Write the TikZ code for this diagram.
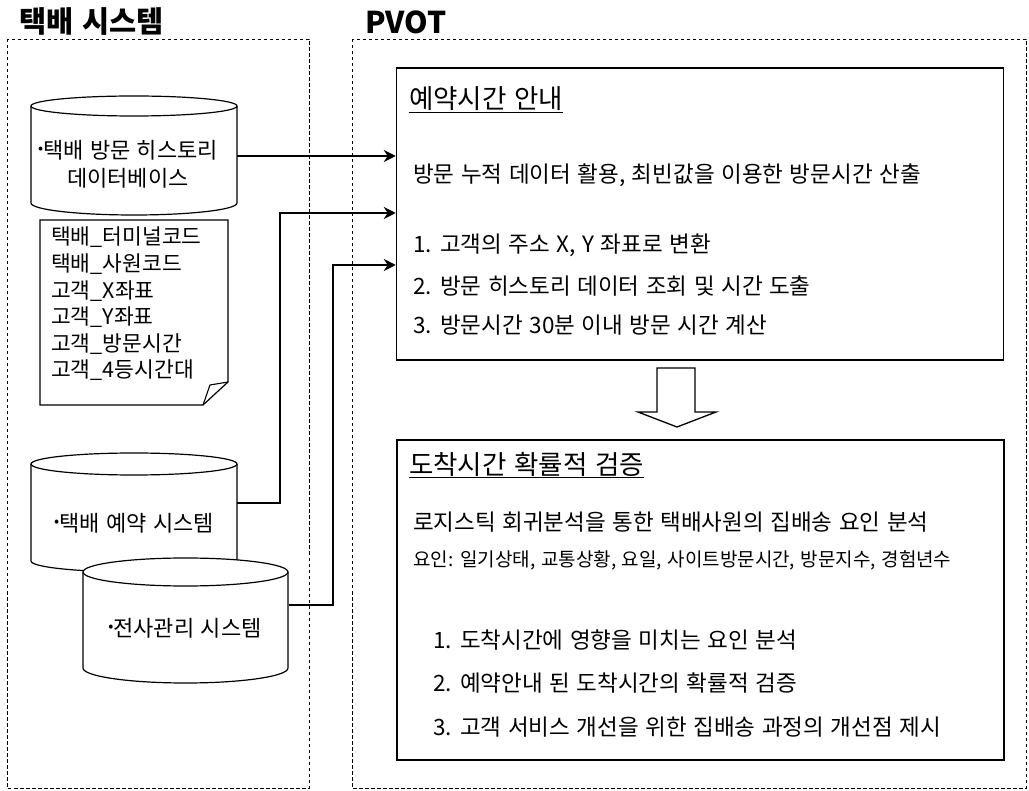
\documentclass[tikz,border=0pt]{standalone}
\usepackage{fontspec}
\setmainfont[WordSpace=1.3]{Noto Sans CJK KR}
\usetikzlibrary{arrows.meta,calc}
\newcommand\mycyl[6]{% left, right, top centre, bottom centre, top radius, bottom radius
  \filldraw[cylline] (#1,#3) -- (#1,#4)
    arc[start angle=180,end angle=0,x radius={(#2-#1)/2},y radius=#6]
    -- (#2,#3)
    arc[start angle=0,end angle=-180,x radius={(#2-#1)/2},y radius=#5] -- cycle;
  \draw[cylline,fill=none] (#1,#3)
    arc[start angle=180,end angle=0,x radius={(#2-#1)/2},y radius=#5];
}
\newcommand\bul{\raisebox{5pt}{\fontsize{15}{15}\selectfont •}}
\begin{document}
\begin{tikzpicture}[x=1pt,y=-1pt,
  frame/.style={draw, line width=0.9pt, dash pattern=on 3.5pt off 2.5pt},
  panel/.style={draw, line width=1.5pt, inner sep=0, fill=none},
  cylline/.style={draw, fill=white, line width=1.2pt},
  hole/.style={inner sep=0, minimum width=206pt},
  body/.style={inner sep=0, anchor=west, font=\fontsize{22.5}{26}\selectfont},
  small/.style={inner sep=0, anchor=west, font=\fontsize{19}{22}\selectfont},
  head/.style={inner sep=0, anchor=west, font=\fontsize{26.5}{30}\selectfont},
  cyltext/.style={inner sep=0, align=center, font=\fontsize{22}{28}\selectfont},
  arr/.style={line width=2.2pt, -{Stealth[length=12pt,width=12pt,inset=4pt]}},
  bigarrow/.style={draw, line width=1.3pt, fill=white, line join=miter}
]
\useasboundingbox (0,0) rectangle (1029,791);

% frames and headings
\draw[frame] (7,39) rectangle (309,788);
\draw[frame] (352,39) rectangle (1026,788);
\node[inner sep=0, anchor=west, font=\fontsize{29.5}{32}\selectfont\bfseries] (t1) at (19,21) {택배 시스템};
\node[inner sep=0, anchor=west, font=\fontsize{30}{32}\selectfont\bfseries] (t2) at (365,22) {PVOT};

% cylinders
\mycyl{31}{237}{106}{203}{10}{12}
\node[hole, minimum height=90pt] (db1) at (134,156) {};
\node[cyltext] (db1t) at (128,164) {\bul 택배 방문 히스토리\\데이터베이스};

\mycyl{31}{237}{464}{561}{11}{11}
\node[hole, minimum height=40pt] (db2) at (134,503) {};
\node[cyltext] (db2t) at (134,523) {\bul 택배 예약 시스템};

\mycyl{83}{288}{572}{668}{14}{15}
\node[hole, minimum height=40pt] (db3) at (185.5,605) {};
\node[cyltext] (db3t) at (185,628) {\bul 전사관리 시스템};

% note with folded corner
\draw[line width=1.2pt, fill=white] (40,220) -- (228,220) -- (228,382) -- (203,405) -- (40,405) -- cycle;
\draw[line width=1.1pt] (203,405) -- (210,385) -- (228,382);
\node[inner sep=0, anchor=north west, align=left, font=\fontsize{21.5}{26.6}\selectfont] (note) at (51,227)
  {택배\_터미널코드\\택배\_사원코드\\고객\_X좌표\\고객\_Y좌표\\고객\_방문시간\\고객\_4등시간대};

% upper panel
\node[panel, minimum width=607pt, minimum height=292pt] (box1) at (700,214) {};
\node[head] (h1) at (409,100) {\underline{예약시간 안내}};
\node[body] (b1) at (413,175) {방문 누적 데이터 활용, 최빈값을 이용한 방문시간 산출};
\node[body] (b2) at (413,245) {1. 고객의 주소 X, Y 좌표로 변환};
\node[body] (b3) at (413,286) {2. 방문 히스토리 데이터 조회 및 시간 도출};
\node[body] (b4) at (413,325) {3. 방문시간 30분 이내 방문 시간 계산};

% lower panel
\node[panel, minimum width=607pt, minimum height=320pt] (box2) at (700.5,600) {};
\node[head] (h2) at (409,465) {\underline{도착시간 확률적 검증}};
\node[body] (c1) at (413,522) {로지스틱 회귀분석을 통한 택배사원의 집배송 요인 분석};
\node[small] (c2) at (413,560) {요인: 일기상태, 교통상황, 요일, 사이트방문시간, 방문지수, 경험년수};
\node[body] (c3) at (433,640) {1. 도착시간에 영향을 미치는 요인 분석};
\node[body] (c4) at (433,683) {2. 예약안내 된 도착시간의 확률적 검증};
\node[body] (c5) at (433,727) {3. 고객 서비스 개선을 위한 집배송 과정의 개선점 제시};

% block arrow between panels
\draw[bigarrow] (657,368) -- (695,368) -- (695,412) -- (716,412) -- (677,427) -- (638,412) -- (657,412) -- cycle;

% connectors
\draw[arr] (db1.east) -- (box1.west |- db1.east);
\draw[arr] (db2.east) -- ++(43,0) |- ($(box1.west)+(0,-1)$);
\draw[arr] (db3.east) -- ++(44,0) |- ($(box1.west)+(0,51)$);
\end{tikzpicture}
\end{document}
